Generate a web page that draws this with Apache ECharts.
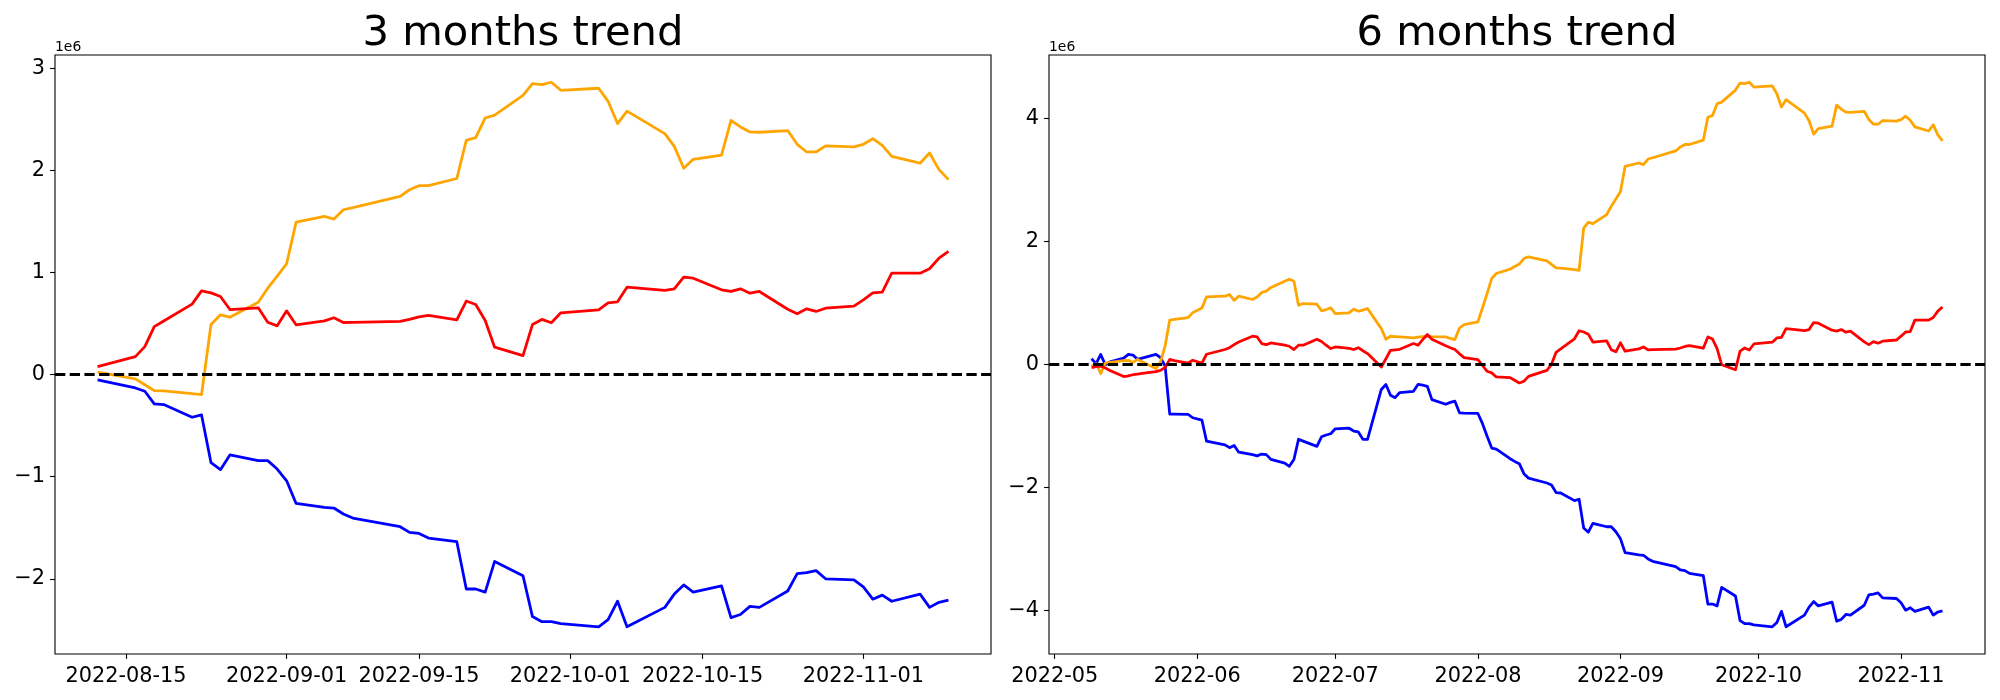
<!DOCTYPE html>
<html>
<head>
<meta charset="utf-8">
<script src="https://cdn.jsdelivr.net/npm/echarts@6/dist/echarts.min.js"></script>
<style>
html,body{margin:0;padding:0;background:#fff;}
#c{width:2000px;height:700px;}
</style>
</head>
<body>
<div id="c"></div>
<script>
// ---- DATA (values in units of 1e6) ----
const dates3m = ['2022-08-12','2022-08-16','2022-08-17','2022-08-18','2022-08-19','2022-08-22','2022-08-23','2022-08-24','2022-08-25','2022-08-26','2022-08-29','2022-08-30','2022-08-31','2022-09-01','2022-09-02','2022-09-05','2022-09-06','2022-09-07','2022-09-08','2022-09-13','2022-09-14','2022-09-15','2022-09-16','2022-09-19','2022-09-20','2022-09-21','2022-09-22','2022-09-23','2022-09-26','2022-09-27','2022-09-28','2022-09-29','2022-09-30','2022-10-04','2022-10-05','2022-10-06','2022-10-07','2022-10-11','2022-10-12','2022-10-13','2022-10-14','2022-10-17','2022-10-18','2022-10-19','2022-10-20','2022-10-21','2022-10-24','2022-10-25','2022-10-26','2022-10-27','2022-10-28','2022-10-31','2022-11-01','2022-11-02','2022-11-03','2022-11-04','2022-11-07','2022-11-08','2022-11-09','2022-11-10'];
const orange3m = [0.023,-0.042,-0.10,-0.157,-0.16,-0.187,-0.196,0.49,0.585,0.562,0.709,0.846,0.964,1.085,1.493,1.549,1.523,1.614,1.634,1.745,1.81,1.85,1.85,1.92,2.294,2.32,2.513,2.54,2.735,2.85,2.84,2.863,2.784,2.804,2.676,2.458,2.58,2.36,2.235,2.02,2.108,2.15,2.49,2.425,2.376,2.373,2.39,2.255,2.18,2.18,2.24,2.23,2.255,2.31,2.245,2.137,2.07,2.17,2.007,1.909];
const red3m = [0.078,0.176,0.274,0.47,0.525,0.69,0.82,0.80,0.765,0.637,0.654,0.513,0.477,0.624,0.487,0.526,0.556,0.51,0.512,0.52,0.54,0.565,0.58,0.536,0.72,0.686,0.53,0.268,0.186,0.49,0.54,0.507,0.605,0.634,0.703,0.713,0.856,0.824,0.84,0.954,0.944,0.83,0.814,0.84,0.797,0.814,0.64,0.595,0.644,0.618,0.65,0.67,0.732,0.80,0.807,0.993,0.993,1.036,1.14,1.206];
const blue3m = [-0.052,-0.131,-0.163,-0.287,-0.294,-0.418,-0.395,-0.863,-0.931,-0.787,-0.843,-0.843,-0.925,-1.04,-1.262,-1.30,-1.307,-1.366,-1.405,-1.49,-1.546,-1.556,-1.601,-1.637,-2.10,-2.10,-2.13,-1.83,-1.97,-2.37,-2.42,-2.42,-2.44,-2.47,-2.40,-2.22,-2.47,-2.28,-2.15,-2.06,-2.13,-2.07,-2.38,-2.35,-2.27,-2.28,-2.12,-1.95,-1.94,-1.92,-2.0,-2.01,-2.08,-2.2,-2.16,-2.22,-2.15,-2.28,-2.23,-2.21];

const dates6m = ['2022-05-09','2022-05-10','2022-05-11','2022-05-12','2022-05-13','2022-05-16','2022-05-17','2022-05-18','2022-05-19','2022-05-20','2022-05-23','2022-05-24','2022-05-25','2022-05-26','2022-05-27','2022-05-30','2022-05-31','2022-06-02','2022-06-03','2022-06-07','2022-06-08','2022-06-09','2022-06-10','2022-06-13','2022-06-14','2022-06-15','2022-06-16','2022-06-17','2022-06-20','2022-06-21','2022-06-22','2022-06-23','2022-06-24','2022-06-27','2022-06-28','2022-06-29','2022-06-30','2022-07-01','2022-07-04','2022-07-05','2022-07-06','2022-07-07','2022-07-08','2022-07-11','2022-07-12','2022-07-13','2022-07-14','2022-07-15','2022-07-18','2022-07-19','2022-07-20','2022-07-21','2022-07-22','2022-07-25','2022-07-26','2022-07-27','2022-07-28','2022-07-29','2022-08-01','2022-08-02','2022-08-03','2022-08-04','2022-08-05','2022-08-08','2022-08-09','2022-08-10','2022-08-11',
'2022-08-12','2022-08-16','2022-08-17','2022-08-18','2022-08-19','2022-08-22','2022-08-23','2022-08-24','2022-08-25','2022-08-26','2022-08-29','2022-08-30','2022-08-31','2022-09-01','2022-09-02','2022-09-05','2022-09-06','2022-09-07','2022-09-08','2022-09-13','2022-09-14','2022-09-15','2022-09-16','2022-09-19','2022-09-20','2022-09-21','2022-09-22','2022-09-23','2022-09-26','2022-09-27','2022-09-28','2022-09-29','2022-09-30','2022-10-04','2022-10-05','2022-10-06','2022-10-07','2022-10-11','2022-10-12','2022-10-13','2022-10-14','2022-10-17','2022-10-18','2022-10-19','2022-10-20','2022-10-21','2022-10-24','2022-10-25','2022-10-26','2022-10-27','2022-10-28','2022-10-31','2022-11-01','2022-11-02','2022-11-03','2022-11-04','2022-11-07','2022-11-08','2022-11-09','2022-11-10'];
const orange6m = [-0.03,0.01,-0.15,0.02,0.03, 0.06,0.065,0.03,0.08,0.04, -0.07,0.04,0.30,0.72,0.73, 0.76,0.84, 0.917,1.096, 1.107,1.135,1.04,1.107, 1.054,1.096,1.168,1.19,1.25, 1.35,1.384,1.35,0.96,0.988, 0.977,0.87,0.89,0.917,0.825, 0.836,0.896,0.863,0.88,0.907, 0.58,0.407,0.456,0.45,0.445, 0.428,0.44,0.45,0.456,0.45, 0.445,0.42,0.402,0.59,0.646, 0.689,0.92,1.15,1.396,1.477, 1.547,1.59,1.63,1.72,
1.748,1.683,1.625,1.568,1.565,1.538,1.529,2.215,2.31,2.287,2.434,2.571,2.689,2.81,3.218,3.274,3.248,3.339,3.359,3.47,3.535,3.575,3.575,3.645,4.019,4.045,4.238,4.265,4.46,4.575,4.565,4.588,4.509,4.529,4.401,4.183,4.305,4.085,3.96,3.745,3.833,3.875,4.215,4.15,4.101,4.098,4.115,3.98,3.905,3.905,3.965,3.955,3.98,4.035,3.97,3.862,3.795,3.895,3.732,3.634];
const red6m = [-0.055,-0.04,-0.03,-0.06,-0.10, -0.20,-0.19,-0.17,-0.16,-0.15, -0.12,-0.10,-0.05,0.08,0.06, 0.02,0.065, 0.02,0.163, 0.24,0.27,0.32,0.363, 0.456,0.445,0.337,0.32,0.347, 0.31,0.293,0.24,0.31,0.31, 0.407,0.37,0.31,0.256,0.282, 0.26,0.24,0.27,0.22,0.174, -0.044,0.09,0.228,0.236,0.244, 0.337,0.31,0.40,0.484,0.407, 0.30,0.27,0.24,0.17,0.109, 0.077,-0.02,-0.114,-0.14,-0.206, -0.217,-0.26,-0.304,-0.275,
-0.197,-0.099,-0.001,0.195,0.25,0.415,0.545,0.525,0.49,0.362,0.379,0.238,0.202,0.349,0.212,0.251,0.281,0.235,0.237,0.245,0.265,0.29,0.305,0.261,0.445,0.411,0.255,-0.007,-0.089,0.215,0.265,0.232,0.33,0.359,0.428,0.438,0.581,0.549,0.565,0.679,0.669,0.555,0.539,0.565,0.522,0.539,0.365,0.32,0.369,0.343,0.375,0.395,0.457,0.525,0.532,0.718,0.718,0.761,0.865,0.931];
const blue6m = [0.09,0.01,0.16,-0.01,0.04, 0.10,0.16,0.15,0.08,0.10, 0.16,0.11,-0.03,-0.81,-0.81, -0.814,-0.87, -0.91,-1.25, -1.31,-1.357,-1.32,-1.43, -1.47,-1.49,-1.46,-1.47,-1.547, -1.607,-1.66,-1.55,-1.22,-1.25, -1.335,-1.18,-1.15,-1.13,-1.05, -1.04,-1.086,-1.1,-1.22,-1.22, -0.41,-0.33,-0.505,-0.543,-0.46, -0.44,-0.326,-0.34,-0.358,-0.575, -0.65,-0.62,-0.6,-0.79,-0.795, -0.80,-0.966,-1.17,-1.363,-1.38, -1.536,-1.58,-1.617,-1.78,
-1.852,-1.931,-1.963,-2.087,-2.094,-2.218,-2.195,-2.663,-2.731,-2.587,-2.643,-2.643,-2.725,-2.84,-3.062,-3.10,-3.107,-3.166,-3.205,-3.29,-3.346,-3.356,-3.401,-3.437,-3.90,-3.90,-3.93,-3.63,-3.77,-4.17,-4.22,-4.22,-4.24,-4.27,-4.20,-4.02,-4.27,-4.08,-3.95,-3.86,-3.93,-3.87,-4.18,-4.15,-4.07,-4.08,-3.92,-3.75,-3.74,-3.72,-3.80,-3.81,-3.88,-4.00,-3.96,-4.02,-3.95,-4.08,-4.03,-4.01];

const xTicks3m = ['2022-08-15','2022-09-01','2022-09-15','2022-10-01','2022-10-15','2022-11-01'];
const xTicks6m = ['2022-05-01','2022-06-01','2022-07-01','2022-08-01','2022-09-01','2022-10-01','2022-11-01'];
const yTicks3m = [-2,-1,0,1,2,3];
const yTicks6m = [-4,-2,0,2,4];
const titles = ['3 months trend','6 months trend'];

// ---- CHART ----
function ts(s){const p=s.split('-').map(Number);return new Date(p[0],p[1]-1,p[2]||1).getTime();}
function pad2(n){return (n<10?'0':'')+n;}
function fmtDay(v){const d=new Date(v);return d.getFullYear()+'-'+pad2(d.getMonth()+1)+'-'+pad2(d.getDate());}
function fmtMonth(v){const d=new Date(v);return d.getFullYear()+'-'+pad2(d.getMonth()+1);}
function yFmt(v){return v<0?'\u2212'+Math.abs(v):String(v);}
function xLim(dates){const a=ts(dates[0]),b=ts(dates[dates.length-1]);const m=(b-a)*0.05;return [a-m,b+m];}
function yLim(arrs){let lo=Infinity,hi=-Infinity;arrs.forEach(a=>a.forEach(v=>{lo=Math.min(lo,v);hi=Math.max(hi,v);}));const m=(hi-lo)*0.05;return [lo-m,hi+m];}

const FONT='DejaVu Sans';
const TICKFS=20.83;
const grids=[{left:55,top:55,width:936,height:599},{left:1049,top:55,width:936,height:599}];
const panels=[
  {dates:dates3m,o:orange3m,r:red3m,b:blue3m,xt:xTicks3m,yt:yTicks3m,fmt:fmtDay},
  {dates:dates6m,o:orange6m,r:red6m,b:blue6m,xt:xTicks6m,yt:yTicks6m,fmt:fmtMonth}
];

const xAxes=[],yAxes=[],series=[],graphics=[];
panels.forEach((p,i)=>{
  const xl=xLim(p.dates), yl=yLim([p.o,p.r,p.b]);
  const xtv=p.xt.map(ts);
  xAxes.push({type:'value',gridIndex:i,position:'bottom',min:xl[0],max:xl[1],scale:true,
    splitLine:{show:false},axisLine:{show:false,onZero:false},
    axisTick:{show:true,inside:false,length:4.9,lineStyle:{color:'#000',width:1.1},customValues:xtv},
    axisLabel:{show:true,customValues:xtv,formatter:(v)=>p.fmt(v),color:'#000',fontSize:TICKFS,fontFamily:FONT,margin:12,hideOverlap:false,showMinLabel:true,showMaxLabel:true}
  });
  yAxes.push({type:'value',gridIndex:i,position:'left',min:yl[0],max:yl[1],scale:true,
    splitLine:{show:false},axisLine:{show:false,onZero:false},
    axisTick:{show:true,inside:false,length:4.9,lineStyle:{color:'#000',width:1.1},customValues:p.yt},
    axisLabel:{show:true,customValues:p.yt,formatter:yFmt,color:'#000',fontSize:TICKFS,fontFamily:FONT,margin:10}
  });
  const mk=(vals,color,extra)=>Object.assign({type:'line',xAxisIndex:i,yAxisIndex:i,
    data:p.dates.map((d,k)=>[ts(d),vals[k]]),showSymbol:false,symbol:'none',
    lineStyle:{color:color,width:2.78,join:'round'},itemStyle:{color:color},
    emphasis:{disabled:true},animation:false,silent:true},extra||{});
  series.push(mk(p.b,'#0000ff'));
  series.push(mk(p.o,'#ffa500'));
  series.push(mk(p.r,'#ff0000',{markLine:{silent:true,symbol:['none','none'],label:{show:false},
    lineStyle:{color:'#000',width:2.78,type:[10.3,4.4]},data:[{yAxis:0}],animation:false}}));
  const g=grids[i];
  graphics.push({type:'text',x:g.left+g.width/2,y:55,style:{text:titles[i],font:'41.67px "'+FONT+'"',fill:'#000',align:'center',verticalAlign:'bottom'}});
  graphics.push({type:'text',x:g.left,y:54.5,style:{text:'1e6',font:'13.9px "'+FONT+'"',fill:'#000',align:'left',verticalAlign:'bottom'}});
});

const chart=echarts.init(document.getElementById('c'),null,{renderer:'canvas',width:2000,height:700});
chart.setOption({
  animation:false,
  backgroundColor:'#fff',
  grid:grids.map(g=>Object.assign({show:true,borderColor:'#000',borderWidth:1.1,backgroundColor:'transparent'},g)),
  xAxis:xAxes,
  yAxis:yAxes,
  series:series,
  graphic:graphics
});
</script>
</body>
</html>
